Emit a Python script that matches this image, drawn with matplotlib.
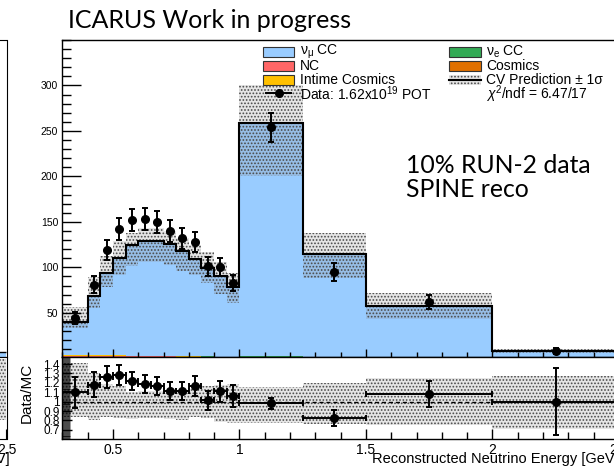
import numpy as np
import matplotlib
matplotlib.use("Agg")
import matplotlib.pyplot as plt
from matplotlib.patches import Rectangle
from matplotlib.ticker import FixedLocator, MultipleLocator

plt.rcParams['font.family'] = ['Liberation Sans', 'DejaVu Sans']
plt.rcParams['mathtext.fontset'] = 'custom'
plt.rcParams['mathtext.rm'] = 'Liberation Sans'
plt.rcParams['mathtext.it'] = 'Liberation Sans:italic'
plt.rcParams['hatch.linewidth'] = 0.8

# ---- data ----
edges = [0.3, 0.4, 0.45, 0.5, 0.55, 0.6, 0.65, 0.7, 0.75, 0.8, 0.85, 0.9, 0.95,
         1.0, 1.25, 1.5, 2.0, 2.5]
total_mc = [40, 68.5, 94, 110.5, 124.5, 129, 129, 126, 118.5, 109.5, 99.5, 90,
            78.5, 259, 115, 57.5, 8.0]
nc = [3.0, 3.0, 2.9, 2.8, 2.6, 2.5, 2.4, 2.2, 2.0, 1.9, 1.8, 1.6, 1.5, 1.5, 1.2, 1.0, 0.2]
intime_cosmics = [0.4, 0.3, 0.3, 0.3, 0.3, 0.3, 0.2, 0.2, 0.2, 0.2, 0.2, 0.2, 0.2,
                  0.4, 0.2, 0.1, 0.0]
nue_cc = [0.1, 0.1, 0.1, 0.1, 0.1, 0.2, 0.2, 0.2, 0.2, 0.2, 0.2, 0.2, 0.2, 0.8, 0.6, 0.6, 0.3]
cosmics = [0, 0, 0, 0, 0, 0, 0, 0, 0, 0, 0, 0, 0, 0, 0, 0, 0]
band_hi = [56.5, 89.5, 112, 128.5, 137.5, 143, 143, 140, 132.5, 124.5, 116.5, 106,
           93.5, 300, 137.5, 72, 10.2]
band_lo = [33.5, 55, 78.5, 91.5, 101.5, 106, 106, 103, 96, 91.5, 82.5, 70.5, 60.5,
           200, 88, 43, 5.7]
data = [44, 81, 119, 142, 152, 153, 150, 140, 132, 128, 101, 100, 83, 254, 95, 62, 8]

# neighbouring plot, only its right edge is visible
side_edges = [2.0, 2.5]
side_mc = [7]
side_ratio_hi = [1.45]
side_ratio_lo = [0.8]

edges = np.array(edges)
total_mc = np.array(total_mc)
data = np.array(data, dtype=float)
centers = 0.5 * (edges[1:] + edges[:-1])
halfw = 0.5 * (edges[1:] - edges[:-1])
numu_cc = total_mc - np.array(nc) - np.array(intime_cosmics) - np.array(nue_cc) - np.array(cosmics)

c_numu = '#99ccff'
c_nue = '#33aa55'
c_nc = '#ff6666'
c_cos = '#e07000'
c_intime = '#ffc000'
band_face = (0.55, 0.55, 0.55, 0.22)
band_hatch = '#4a4a4a'

W, H = 614, 470
fig = plt.figure(figsize=(W / 100, H / 100), dpi=100)


def px_axes(left, top, right, bottom):
    return fig.add_axes([left / W, 1 - bottom / H, (right - left) / W, (bottom - top) / H])


def band(a, hi, lo, e):
    a.stairs(hi, e, baseline=lo, fill=True, facecolor=band_face, edgecolor=band_hatch,
             hatch='.....', lw=0)


ax = px_axes(62.3, 40, 619, 356.5)
axr = px_axes(62.3, 357, 619, 439.3)

# ---- stacked MC ----
base = np.zeros(len(total_mc))
for vals, col in [(nc, c_nc), (cosmics, c_cos), (intime_cosmics, c_intime),
                  (nue_cc, c_nue), (numu_cc, c_numu)]:
    vals = np.array(vals, dtype=float)
    ax.stairs(base + vals, edges, baseline=base.copy(), fill=True, color=col, lw=0)
    base = base + vals

band(ax, band_hi, band_lo, edges)
ax.stairs(total_mc, edges, baseline=None, color='black', lw=1.5)
ax.errorbar(centers, data, yerr=np.sqrt(data), fmt='o', color='black', ms=5.5,
            elinewidth=1.4, capsize=2.2, capthick=1.4)

ax.set_xlim(0.3, 2.5)
ax.set_ylim(2, 350)
ax.yaxis.set_major_locator(FixedLocator([50, 100, 150, 200, 250, 300]))
ax.yaxis.set_minor_locator(MultipleLocator(10))
ax.xaxis.set_major_locator(MultipleLocator(0.5))
ax.xaxis.set_minor_locator(MultipleLocator(0.1))
ax.tick_params(axis='y', which='major', direction='in', length=13.5, width=1, labelsize=7.5, pad=3)
ax.tick_params(axis='y', which='minor', direction='in', length=6.7, width=1)
ax.tick_params(axis='x', which='major', direction='in', length=5.8, width=1, labelbottom=False)
ax.tick_params(axis='x', which='minor', direction='in', length=3.6, width=1)

# ---- ratio ----
ratio = data / total_mc
ratio_err = np.sqrt(data) / total_mc
band(axr, np.array(band_hi) / total_mc, np.array(band_lo) / total_mc, edges)
axr.axhline(1.0, color='black', ls='--', lw=1, dashes=(3, 2))
axr.errorbar(centers, ratio, xerr=halfw, yerr=ratio_err, fmt='o', color='black', ms=5.5,
             elinewidth=1.4, capsize=2.2, capthick=1.4)
axr.set_xlim(0.3, 2.5)
axr.set_ylim(0.6, 1.475)
axr.yaxis.set_major_locator(FixedLocator([0.7, 0.8, 0.9, 1.0, 1.1, 1.2, 1.3, 1.4]))
axr.set_yticklabels(['0.7', '0.8', '0.9', '1', '1.1', '1.2', '1.3', '1.4'])
axr.yaxis.set_minor_locator(MultipleLocator(0.01))
axr.xaxis.set_major_locator(MultipleLocator(0.5))
axr.xaxis.set_minor_locator(MultipleLocator(0.1))
axr.xaxis.set_major_formatter(plt.FuncFormatter(lambda v, p: f'{v:g}'))
axr.tick_params(axis='y', which='major', direction='in', length=7, width=1, labelsize=8.5, pad=2)
axr.tick_params(axis='y', which='minor', direction='in', length=5.5, width=0.5)
axr.tick_params(axis='x', which='major', direction='in', length=7.2, width=1, labelsize=10, pad=3)
axr.tick_params(axis='x', which='minor', direction='in', length=4.8, width=1)
axr.set_ylabel('Data/MC', fontsize=11)
axr.yaxis.set_label_coords(-0.052, 0.57)
axr.set_xlabel('Reconstructed Neutrino Energy [GeV]', fontsize=10.5, loc='right')
axr.xaxis.set_label_coords(1.0, -0.154)

for a in (ax, axr):
    for s in a.spines.values():
        s.set_linewidth(1)

# ---- neighbouring plot edge ----
axs = px_axes(-300, 40, 6.5, 356.5)
axsr = px_axes(-300, 357, 6.5, 439.3)
axs.stairs(side_mc, side_edges, fill=True, color=c_numu, lw=0)
axs.stairs(side_mc, side_edges, baseline=None, color='black', lw=1)
axs.set_xlim(0.3, 2.5)
axs.set_ylim(2, 350)
axs.set_xticks([])
axs.set_yticks([])
band(axsr, side_ratio_hi, side_ratio_lo, side_edges)
axsr.set_xlim(0.3, 2.5)
axsr.set_ylim(0.6, 1.475)
axsr.set_yticks([])
axsr.set_xticks([2.5])
axsr.set_xticklabels(['2.5'])
axsr.tick_params(axis='x', direction='in', length=7.2, labelsize=10, pad=3)
axsr.set_xlabel('Reconstructed Neutrino Energy [GeV]', fontsize=10.5, loc='right')
axsr.xaxis.set_label_coords(1.01, -0.154)

# ---- overlay in pixel coordinates: legend and slide text ----
ov = fig.add_axes([0, 0, 1, 1], zorder=10)
ov.set_xlim(0, W)
ov.set_ylim(H, 0)
ov.axis('off')
ov.patch.set_alpha(0)

leg_rows = [51.7, 65.6, 79.5, 93.4]
col_x = [262.7, 449]
box_w, box_h = 31.6, 10

left_col = [('box', c_numu, r'$\mathrm{\nu_{\mu}}$ CC'),
            ('box', c_nc, 'NC'),
            ('box', c_intime, 'Intime Cosmics'),
            ('data', None, r'Data: 1.62x10$^{19}$ POT')]
right_col = [('box', c_nue, r'$\mathrm{\nu_{e}}$ CC'),
             ('box', c_cos, 'Cosmics'),
             ('band', None, 'CV Prediction ± 1σ'),
             ('none', None, r'$\chi^{2}$/ndf = 6.47/17')]

for x0, entries in zip(col_x, [left_col, right_col]):
    for yc, (kind, col, lab) in zip(leg_rows, entries):
        if kind == 'box':
            ov.add_patch(Rectangle((x0, yc - box_h / 2), box_w, box_h, facecolor=col,
                                   edgecolor='#333333', lw=0.8))
        elif kind == 'band':
            ov.add_patch(Rectangle((x0, yc - box_h / 2), box_w, box_h, facecolor=band_face,
                                   edgecolor=band_hatch, hatch='.....', lw=0))
            ov.plot([x0, x0 + box_w], [yc, yc], color='black', lw=1.5)
        elif kind == 'data':
            ov.plot([x0 + 3, x0 + box_w - 3], [yc, yc], color='black', lw=1.4)
            ov.plot([x0 + box_w / 2], [yc], 'o', color='black', ms=5.5)
        ov.text(x0 + box_w + 5.5, yc + 0.5, lab, fontsize=10, ha='left', va='center')

ov.text(68, 28, 'ICARUS Work in progress', fontsize=18, family='Lato',
        ha='left', va='baseline')
ov.text(405.5, 172.7, '10% RUN-2 data', fontsize=17.8, family='Lato',
        ha='left', va='baseline')
ov.text(405.5, 197, 'SPINE reco', fontsize=17.8, family='Lato',
        ha='left', va='baseline')

fig.savefig('out.png', dpi=100)
